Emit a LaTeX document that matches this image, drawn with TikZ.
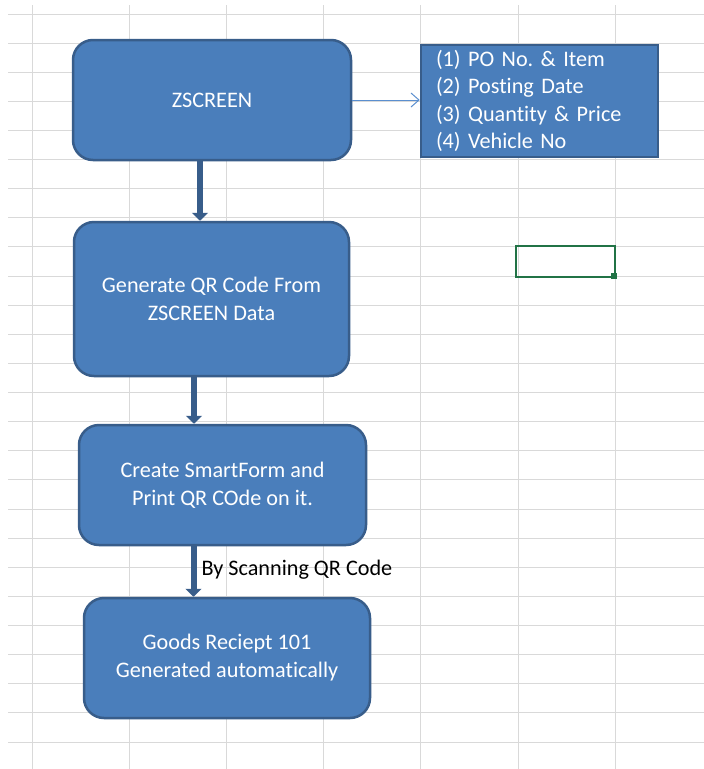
\documentclass[tikz,border=0pt]{standalone}
\usepackage{fontspec}
\setmainfont{Carlito}[Ligatures=NoCommon]
\usetikzlibrary{arrows.meta,calc,positioning}
\definecolor{boxfill}{HTML}{4A7EBB}
\definecolor{boxline}{HTML}{385D8A}
\definecolor{gridline}{HTML}{D9D9D9}
\definecolor{linkline}{HTML}{5B8FCF}
\definecolor{cellgreen}{HTML}{217346}
\frenchspacing

\begin{document}
\begin{tikzpicture}[x=1pt, y=-1pt,
	block/.style={draw=boxline, line width=2.5pt, fill=boxfill, rounded corners=20pt, text=white, align=center, font=\fontsize{22.2}{28}\selectfont},
	listbox/.style={draw=boxline, line width=2.5pt, fill=boxfill, text=white, align=left, text width=207pt, inner xsep=15pt, minimum height=112pt, font=\fontsize{22.2}{27.5}\selectfont},
	flow/.style={draw=boxline, line width=6pt, -{Triangle[width=16pt,length=8pt]}},
	link/.style={draw=linkline, line width=1pt, -{Straight Barb[length=8pt,width=14pt]}}]
	\fill[white] (0,0) rectangle (704,769);
	\useasboundingbox (0,0) rectangle (704,769);
	
	\def\dy{29.12}
	\def\dx{97.2}
	\foreach \k in {0,...,25}
		\draw[gridline, line width=1pt] (8,14+\dy*\k) -- (704,14+\dy*\k);
	\foreach \k in {0,...,6}
		\draw[gridline, line width=1pt] (32+\dx*\k,5) -- (32+\dx*\k,769);
	
	\node[block, minimum width=278pt, minimum height=120pt] (zs) at (212,100) {ZSCREEN};
	\node[listbox] (data) at (539.5,101) {(1) PO No. \& Item\\(2) Posting Date\\(3) Quantity \& Price\\(4) Vehicle No};
	\node[block, minimum width=275pt, minimum height=154pt] (gen) at (211.5,299) {Generate QR Code From\\ZSCREEN Data};
	\node[block, minimum width=287pt, minimum height=120pt] (print) at (222.5,485) {Create SmartForm and\\Print QR COde on it.};
	\node[block, minimum width=286pt, minimum height=120pt] (goods) at (227,658) {Goods Reciept 101\\Generated automatically};
	
	\draw[link] (zs.east) -- (zs.east -| data.west);
	\draw[flow] ([xshift=-12pt]zs.south) -- ([xshift=-12pt]zs.south |- gen.north);
	\draw[flow] ([xshift=-17.5pt]gen.south) -- ([xshift=-17.5pt]gen.south |- print.north);
	\draw[flow] ([xshift=-29pt]print.south) -- ([xshift=-29pt]print.south |- goods.north)
		node[pos=0.5, anchor=west, inner sep=0pt, xshift=5pt, yshift=2pt, font=\fontsize{22.2}{26}\selectfont] (scan) {By Scanning QR Code};
	
	\draw[cellgreen, line width=2pt] (516,246) rectangle (615,277);
	\fill[cellgreen] (611,273) rectangle (617,279);
\end{tikzpicture}
\end{document}
